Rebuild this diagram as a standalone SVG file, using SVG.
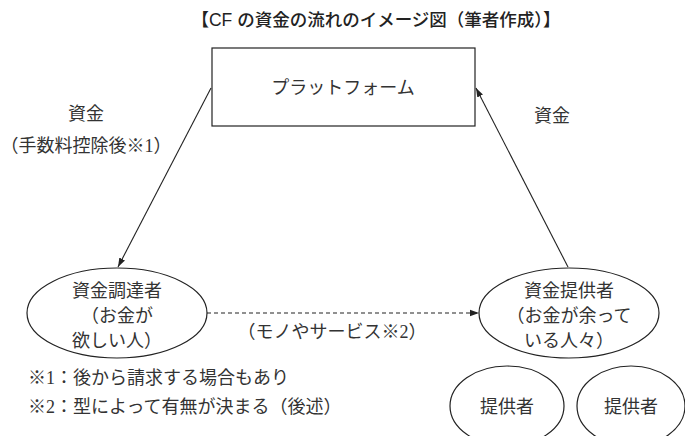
<svg xmlns="http://www.w3.org/2000/svg" width="685" height="436" viewBox="0 0 685 436">
<style>
.t{font-family:"Liberation Serif","Noto Sans CJK JP",serif;font-size:18px;fill:#333;text-anchor:middle}
.l{font-family:"Liberation Serif","Noto Sans CJK JP",serif;font-size:18px;fill:#333}
.title{font-family:"Liberation Sans","Noto Sans CJK JP",sans-serif;font-size:17.5px;fill:#222;text-anchor:middle;font-weight:500}
.s{fill:#fff;stroke:#222;stroke-width:1.2}
.c{stroke:#222;stroke-width:1.1;fill:none}
</style>
<defs>
<marker id="ah" viewBox="0 0 10 10" refX="10" refY="5" markerWidth="9" markerHeight="9" markerUnits="userSpaceOnUse" orient="auto">
<path d="M0,1.5 L10,5 L0,8.5 z" fill="#222"/>
</marker>
</defs>
<rect width="685" height="436" fill="#fff"/>
<text class="title" x="376" y="26">【CF の資金の流れのイメージ図（筆者作成）】</text>
<g id="connectors">
<line class="c" x1="211" y1="88" x2="118" y2="267" marker-end="url(#ah)"/>
<line class="c" x1="568" y1="267" x2="476" y2="88" marker-end="url(#ah)"/>
<line class="c" x1="207" y1="313" x2="479" y2="313" stroke-dasharray="4,3" marker-end="url(#ah)"/>
<text class="t" x="86" y="120">資金</text>
<text class="t" x="86" y="152">（手数料控除後※1）</text>
<text class="t" x="552" y="122">資金</text>
<text class="t" x="332" y="338">（モノやサービス※2）</text>
</g>
<g id="platform">
<rect class="s" x="212" y="48" width="263" height="78"/>
<text class="t" x="343" y="94">プラットフォーム</text>
</g>
<g id="fundraiser">
<ellipse class="s" cx="117" cy="313" rx="90" ry="45"/>
<text class="t" x="117" y="297">資金調達者</text>
<text class="t" x="117" y="322">（お金が</text>
<text class="t" x="117" y="347">欲しい人）</text>
</g>
<g id="funder">
<ellipse class="s" cx="569" cy="313" rx="90" ry="45"/>
<text class="t" x="569" y="297">資金提供者</text>
<text class="t" x="569" y="322">（お金が余って</text>
<text class="t" x="569" y="347">いる人々）</text>
</g>
<g id="funder1">
<ellipse class="s" cx="507" cy="406" rx="57" ry="40"/>
<text class="t" x="507" y="413">提供者</text>
</g>
<g id="funder2">
<ellipse class="s" cx="631" cy="406" rx="54" ry="40"/>
<text class="t" x="631" y="413">提供者</text>
</g>
<g id="notes">
<text class="l" x="28" y="384">※1：後から請求する場合もあり</text>
<text class="l" x="28" y="413">※2：型によって有無が決まる（後述）</text>
</g>
</svg>
